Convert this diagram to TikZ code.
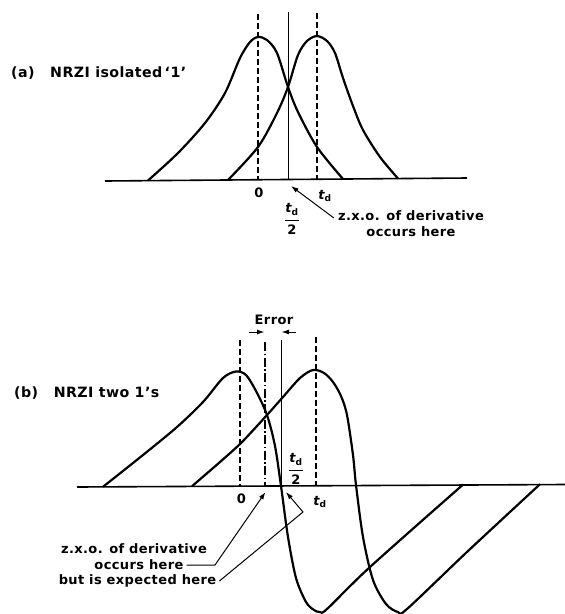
\documentclass[tikz,border=0pt]{standalone}
\usepackage{fontspec}
\usepackage{amsmath}
\setmainfont{DejaVu Sans}[LetterSpace=3]
\usetikzlibrary{arrows.meta}
\newcommand{\tdsym}{\ensuremath{\text{\itshape t}_{\text{d}}}}
\newcommand{\tdhalf}{\ensuremath{\genfrac{}{}{1.3pt}{0}{\text{\itshape t}_{\text{d}}}{\text{2}}}}
\tikzset{
  curve/.style={line width=2.2pt, line join=round},
  axisline/.style={line width=1.6pt},
  guide/.style={line width=1.3pt, dash pattern=on 6pt off 3pt},
  guidedd/.style={line width=1.3pt, dash pattern=on 9pt off 2.5pt on 1.5pt off 2.5pt},
  midline/.style={line width=1pt},
  lbl/.style={font=\fontsize{13}{15}\selectfont\bfseries, inner sep=0pt},
  biglbl/.style={font=\fontsize{14.2}{16}\selectfont\bfseries, inner sep=0pt},
  conn/.style={line width=1pt, -{Latex[length=7.5pt,width=5pt]}},
}
\begin{document}
\begin{tikzpicture}[x=1pt,y=-1pt]
\useasboundingbox (0,0) rectangle (565,614);
% ---------------- (a) ----------------
\draw[axisline] (105,181) -- (467,178);
\draw[guide] (258,14) -- (258,180);
\draw[midline] (288,12) -- (288,180);
\draw[guide] (317,13) -- (317,179);
\draw[curve] plot[smooth] coordinates {(148,180.5) (178,153) (205,123) (225,93) (240,58) (250,42) (258,37) (267,40) (277,53) (288,87) (298,112) (317,147) (343,179)};
\draw[curve] plot[smooth] coordinates {(228,180) (258,147) (277,113) (288,87) (298,55) (307,41) (317,36) (327,41) (335,53) (343,78) (353,106) (363,130) (380,157) (398,178.5)};
\node[biglbl, anchor=west] (labA) at (11,73) {(a)\hspace{1.1em}NRZI isolated\,`1'};
\node[lbl] (zeroA) at (259,193) {0};
\node[lbl] (tdA) at (325,196) {\tdsym};
\node[lbl] (halfA) at (292,219) {\tdhalf};
\node[lbl] (zxoA) at (411,216) {z.x.o. of derivative};
\node[lbl] (occA) at (411,231.5) {occurs here};
\coordinate (tipA) at (291,186);
\draw[conn] ([xshift=-4pt,yshift=-2pt]zxoA.west) -- (tipA);
% ---------------- (b) ----------------
\draw[axisline] (77,487) -- (565,484.5);
\draw[guide] (240,340) -- (240,486.5);
\draw[guidedd] (265,342) -- (265,486.5);
\draw[midline] (281,340) -- (281,486);
\draw[guide] (316,337) -- (316,485.5);
\draw[curve] plot[smooth] coordinates {(103,486.8) (143,455) (177,427) (203,402) (223,378) (236,371.5) (246,375) (256,391) (267,415) (275,446) (281,486) (288,537) (296,578) (306,602) (314,610) (320,612) (327,609) (370,567) (463,484.6)};
\draw[curve] plot[smooth] coordinates {(192,486.2) (220,462) (242,442) (267,415) (283,397) (300,378) (313,370) (324,373) (333,382) (341,396) (347,415) (353,455) (356,485) (363,537) (373,580) (386,604) (398,612) (407,609) (468,551) (540,484.2)};
\node[biglbl, anchor=west] (labB) at (14,393) {(b)\hspace{1.1em}NRZI two 1's};
\node[lbl] (err) at (274,320) {Error};
\coordinate (errRtail) at (249,332);
\coordinate (errRtip) at (264.5,332);
\coordinate (errLtail) at (296,332);
\coordinate (errLtip) at (281.5,332);
\draw[conn] (errRtail) -- (errRtip);
\draw[conn] (errLtail) -- (errLtip);
\node[lbl] (zeroB) at (241.5,498.5) {0};
\node[lbl] (tdB) at (320,502) {\tdsym};
\node[lbl] (halfB) at (296,469) {\tdhalf};
\node[lbl] (zxoB) at (134,549) {z.x.o. of derivative};
\node[lbl] (occB) at (139,565) {occurs here};
\node[lbl] (butB) at (137.5,581) {but is expected here};
\coordinate (bendB1) at (215,565);
\coordinate (tipB1) at (265.5,492);
\coordinate (bendB2) at (303,512);
\coordinate (tipB2) at (286,492);
\draw[conn] ([xshift=3pt]occB.east) -- (bendB1) -- (tipB1);
\draw[conn] ([xshift=3pt]butB.east) -- (bendB2) -- (tipB2);
\end{tikzpicture}
\end{document}
